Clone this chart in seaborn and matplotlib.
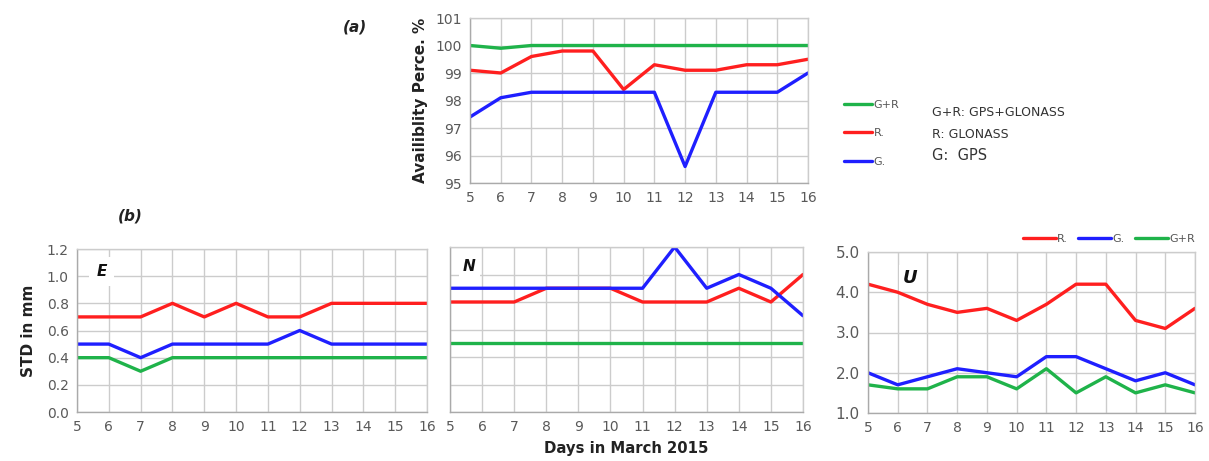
import numpy as np
import pandas as pd
import matplotlib
matplotlib.use("Agg")
import matplotlib.pyplot as plt
import seaborn as sns
from matplotlib.lines import Line2D

days = list(range(5, 17))

# Panel (a): availability percentage
avail_GR = [100.0, 99.9, 100.0, 100.0, 100.0, 100.0, 100.0, 100.0, 100.0, 100.0, 100.0, 100.0]
avail_R = [99.1, 99.0, 99.6, 99.8, 99.8, 98.4, 99.3, 99.1, 99.1, 99.3, 99.3, 99.5]
avail_G = [97.4, 98.1, 98.3, 98.3, 98.3, 98.3, 98.3, 95.6, 98.3, 98.3, 98.3, 99.0]

# Panel (b): STD in mm
E_R = [0.7, 0.7, 0.7, 0.8, 0.7, 0.8, 0.7, 0.7, 0.8, 0.8, 0.8, 0.8]
E_G = [0.5, 0.5, 0.4, 0.5, 0.5, 0.5, 0.5, 0.6, 0.5, 0.5, 0.5, 0.5]
E_GR = [0.4, 0.4, 0.3, 0.4, 0.4, 0.4, 0.4, 0.4, 0.4, 0.4, 0.4, 0.4]

N_R = [0.8, 0.8, 0.8, 0.9, 0.9, 0.9, 0.8, 0.8, 0.8, 0.9, 0.8, 1.0]
N_G = [0.9, 0.9, 0.9, 0.9, 0.9, 0.9, 0.9, 1.2, 0.9, 1.0, 0.9, 0.7]
N_GR = [0.5, 0.5, 0.5, 0.5, 0.5, 0.5, 0.5, 0.5, 0.5, 0.5, 0.5, 0.5]

U_R = [4.2, 4.0, 3.7, 3.5, 3.6, 3.3, 3.7, 4.2, 4.2, 3.3, 3.1, 3.6]
U_G = [2.0, 1.7, 1.9, 2.1, 2.0, 1.9, 2.4, 2.4, 2.1, 1.8, 2.0, 1.7]
U_GR = [1.7, 1.6, 1.6, 1.9, 1.9, 1.6, 2.1, 1.5, 1.9, 1.5, 1.7, 1.5]

series_names = ["R.", "G.", "G+R"]
colors = {"R.": "#ff1f1f", "G.": "#1f1fff", "G+R": "#1fb34a"}

sns.set_style("whitegrid")
plt.rcParams["font.family"] = ["DejaVu Sans"]

def long_df(r, g, gr):
    return pd.DataFrame({
        "day": days * 3,
        "value": r + g + gr,
        "series": ["R."] * 12 + ["G."] * 12 + ["G+R"] * 12,
    })

fig = plt.figure(figsize=(12.09, 4.61), dpi=100)

tick_color = "#595959"
grid_color = "#cccccc"

def style_ax(ax, ylim, yticks, fmt, show_ylabels=True):
    ax.set_xlim(5, 16)
    ax.set_xticks(days)
    ax.set_xticklabels([str(d) for d in days])
    ax.set_ylim(*ylim)
    ax.set_yticks(yticks)
    if show_ylabels:
        ax.set_yticklabels([fmt.format(v) for v in yticks])
    else:
        ax.set_yticklabels([])
    ax.grid(True, color=grid_color, linewidth=1.0)
    for s in ax.spines.values():
        s.set_color(grid_color)
        s.set_linewidth(1.0)
    ax.spines["left"].set_color("#aaaaaa")
    ax.spines["bottom"].set_color("#aaaaaa")
    ax.tick_params(axis="both", colors=tick_color, labelsize=10, length=0, pad=6)
    ax.set_xlabel("")
    ax.set_ylabel("")

lw = 2.4

# Panel (a)
ax_a = fig.add_axes([470/1209, 1-183/461, 338/1209, 165/461])
df_a = long_df(avail_R, avail_G, avail_GR)
sns.lineplot(data=df_a, x="day", y="value", hue="series", hue_order=["G+R", "R.", "G."],
             palette=colors, linewidth=lw, ax=ax_a, legend=False)
style_ax(ax_a, (95, 101), [95, 96, 97, 98, 99, 100, 101], "{:.0f}")
ax_a.set_ylabel("Availiblity Perce. %", fontsize=11, fontweight="bold", color="#222222", labelpad=5)
fig.text(355/1209, 1-27/461, "(a)", fontsize=11, fontweight="bold", fontstyle="italic", color="#222222", ha="center", va="center")

# Legend for panel (a)
handles_a = [Line2D([], [], color=colors[n], linewidth=lw) for n in ["G+R", "R.", "G."]]
fig.legend(handles_a, ["G+R", "R.", "G."], loc="upper left", bbox_to_anchor=(838/1209, 1-94/461),
           frameon=False, fontsize=8, labelcolor="#555555", handlelength=2.6, handletextpad=0.1,
           labelspacing=1.67, borderpad=0)
fig.text(932/1209, 1-113/461, "G+R: GPS+GLONASS", fontsize=9, color="#333333", va="center")
fig.text(932/1209, 1-134/461, "R: GLONASS", fontsize=9, color="#333333", va="center")
fig.text(932/1209, 1-155/461, "G:  GPS", fontsize=10.5, color="#333333", va="center")

# Panel E
ax_e = fig.add_axes([77/1209, 1-412/461, 350/1209, 163/461])
sns.lineplot(data=long_df(E_R, E_G, E_GR), x="day", y="value", hue="series", hue_order=series_names,
             palette=colors, linewidth=lw, ax=ax_e, legend=False)
style_ax(ax_e, (0, 1.2), [0.0, 0.2, 0.4, 0.6, 0.8, 1.0, 1.2], "{:.1f}")
ax_e.set_ylabel("STD in mm", fontsize=11, fontweight="bold", color="#222222", labelpad=8)
ax_e.text(0.07, 0.86, "E", transform=ax_e.transAxes, fontsize=11, fontweight="bold", fontstyle="italic",
          color="#111111", ha="center", va="center",
          bbox=dict(facecolor="white", edgecolor="none", pad=5))
fig.text(130/1209, 1-216/461, "(b)", fontsize=11, fontweight="bold", fontstyle="italic", color="#222222", ha="center", va="center")

# Panel N
ax_n = fig.add_axes([450/1209, 1-412/461, 353/1209, 165/461])
sns.lineplot(data=long_df(N_R, N_G, N_GR), x="day", y="value", hue="series", hue_order=series_names,
             palette=colors, linewidth=lw, ax=ax_n, legend=False)
style_ax(ax_n, (0, 1.2), [0.0, 0.2, 0.4, 0.6, 0.8, 1.0, 1.2], "{:.1f}", show_ylabels=False)
ax_n.text(0.055, 0.88, "N", transform=ax_n.transAxes, fontsize=11, fontweight="bold", fontstyle="italic",
          color="#111111", ha="center", va="center",
          bbox=dict(facecolor="white", edgecolor="none", pad=3))
ax_n.set_xlabel("Days in March 2015", fontsize=10.7, fontweight="bold", color="#222222", labelpad=5)

# Panel U
ax_u = fig.add_axes([868/1209, 1-413/461, 327/1209, 161/461])
sns.lineplot(data=long_df(U_R, U_G, U_GR), x="day", y="value", hue="series", hue_order=series_names,
             palette=colors, linewidth=lw, ax=ax_u, legend=False)
style_ax(ax_u, (1.0, 5.0), [1.0, 2.0, 3.0, 4.0, 5.0], "{:.1f}")
ax_u.tick_params(axis="y", labelsize=11)
ax_u.text(0.13, 0.84, "U", transform=ax_u.transAxes, fontsize=13, fontweight="bold", fontstyle="italic",
          color="#111111", ha="center", va="center",
          bbox=dict(facecolor="white", edgecolor="none", pad=3))
handles_u = [Line2D([], [], color=colors[n], linewidth=lw) for n in series_names]
ax_u.legend(handles_u, series_names, loc="lower right", bbox_to_anchor=(1.0, 1.05), ncol=3,
            frameon=False, fontsize=8, labelcolor="#555555", handlelength=3.0, handletextpad=0.1,
            columnspacing=0.9, borderpad=0, borderaxespad=0)

fig.savefig("out.png", dpi=100, facecolor="white")
